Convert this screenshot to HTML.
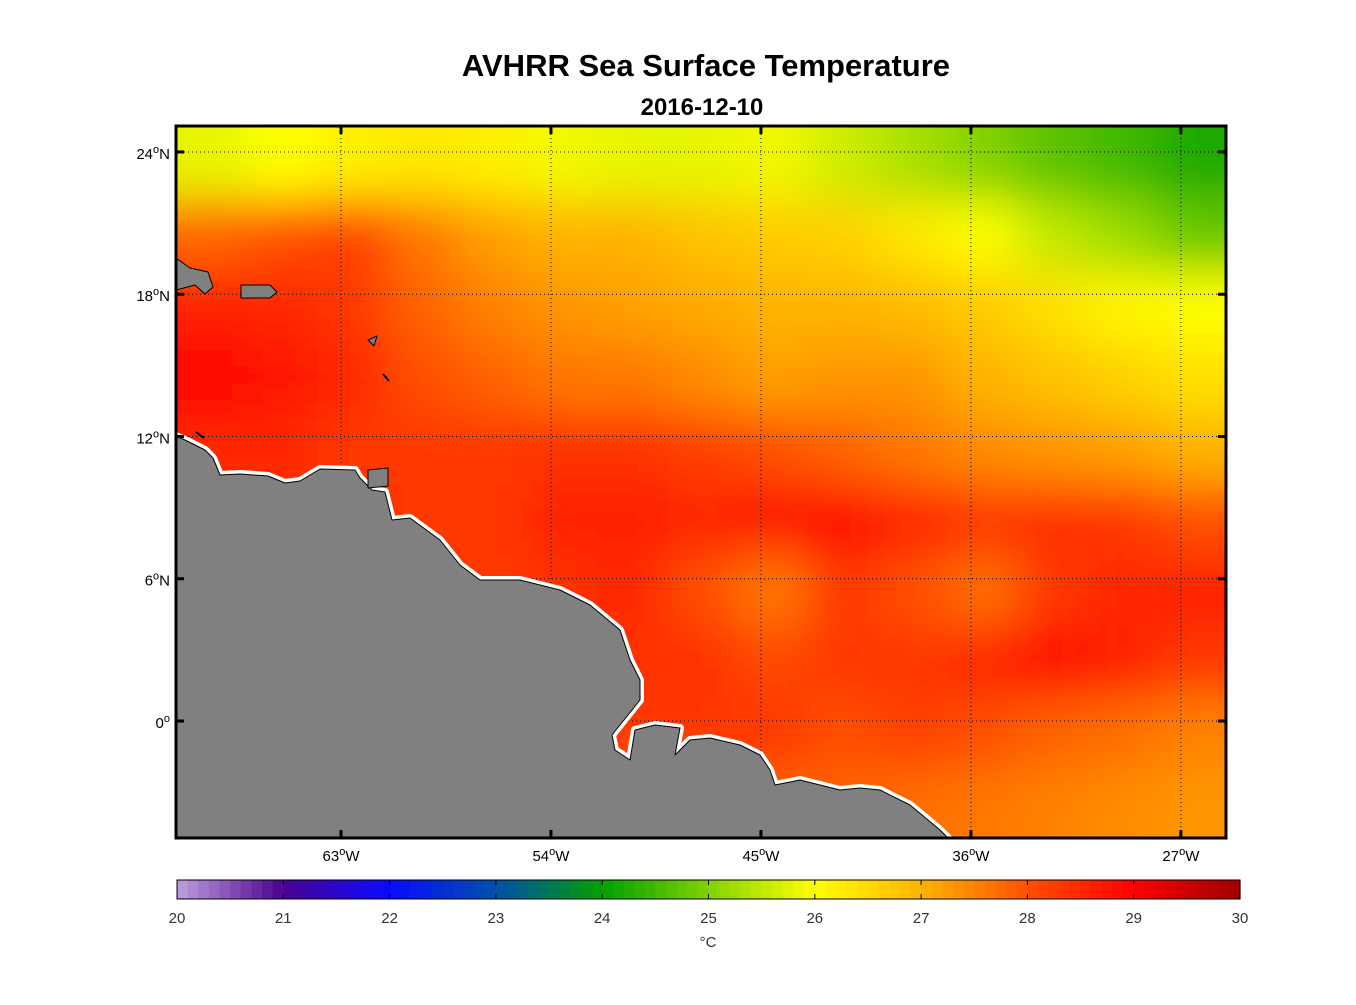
<!DOCTYPE html>
<html><head><meta charset="utf-8"><style>
body{margin:0;background:#fff;font-family:"Liberation Sans",sans-serif}
</style></head><body>
<svg id="svg" width="1356" height="1000" xmlns="http://www.w3.org/2000/svg">
<defs>
<filter id="blur" x="-10%" y="-10%" width="120%" height="120%"><feGaussianBlur stdDeviation="24" edgeMode="duplicate"/></filter>
<clipPath id="clip"><rect x="176" y="126" width="1050" height="712"/></clipPath>
</defs>
<text x="706" y="76" text-anchor="middle" font-size="31" font-weight="bold">AVHRR Sea Surface Temperature</text>
<text x="702" y="115" text-anchor="middle" font-size="24" font-weight="bold">2016-12-10</text>
<g clip-path="url(#clip)">
<g id="field" filter="url(#blur)"></g>
<g id="grid"></g>
<g stroke-linejoin="round">
<path d="M176,436 L185,440 L205,450 L213,458 L220,475 L240,474 L268,476 L285,483 L300,481 L320,469 L355,470 L360,478 L372,490 L385,492 L392,520 L410,518 L440,540 L460,565 L480,580 L520,580 L560,590 L590,605 L620,630 L630,660 L640,680 L640,700 L612,735 L615,750 L630,760 L635,730 L655,725 L680,728 L675,755 L690,740 L710,738 L740,745 L760,755 L770,770 L775,785 L800,780 L820,785 L840,790 L860,788 L880,790 L910,805 L940,830 L950,840 L170,840 Z" fill="none" stroke="#fff" stroke-width="8"/>
<path d="M176,436 L185,440 L205,450 L213,458 L220,475 L240,474 L268,476 L285,483 L300,481 L320,469 L355,470 L360,478 L372,490 L385,492 L392,520 L410,518 L440,540 L460,565 L480,580 L520,580 L560,590 L590,605 L620,630 L630,660 L640,680 L640,700 L612,735 L615,750 L630,760 L635,730 L655,725 L680,728 L675,755 L690,740 L710,738 L740,745 L760,755 L770,770 L775,785 L800,780 L820,785 L840,790 L860,788 L880,790 L910,805 L940,830 L950,840 L170,840 Z" fill="#808080" stroke="#000" stroke-width="1"/>
<path d="M368,470 L388,468 L388,486 L368,488 Z" fill="#808080" stroke="#000" stroke-width="1"/>
<path d="M176,258 L190,268 L208,272 L213,287 L205,294 L195,285 L176,290 Z" fill="#808080" stroke="#000"/>
<path d="M241,285 L270,285 L277,292 L270,298 L241,298 Z" fill="#808080" stroke="#000"/>
<path d="M368,340 L377,336 L374,346 Z" fill="#808080" stroke="#000"/>
<path d="M383,374 L389,381" stroke="#000" stroke-width="2"/>
<path d="M196,432 L204,438" stroke="#000" stroke-width="2"/>
</g>
</g>
<rect x="176" y="126" width="1050" height="712" fill="none" stroke="#000" stroke-width="3"/>
<g id="axes"></g>
<g id="cbar"></g>
<text x="708" y="947" text-anchor="middle" font-size="15" fill="#333">°C</text>
</svg>
<script>
const lonEdges=[-70,-67,-64,-61,-58,-55,-52,-49,-46,-43,-40,-37,-34,-31,-28,-25];
const latEdges=[25,22,19,16,13,10,7,4,1,-2,-5];
const sst=[
[25.8,26.0,26.2,26.3,26.2,25.9,25.8,25.8,25.9,25.6,25.3,25.0,24.7,24.5,24.2],
[27.8,28.0,28.2,27.6,27.2,27.0,27.0,26.8,26.7,26.6,26.3,26.0,25.5,25.2,24.8],
[28.6,28.5,28.3,27.8,27.5,27.3,27.2,27.1,27.0,27.0,26.9,26.7,26.4,26.1,26.0],
[29.0,28.7,28.5,28.0,27.8,27.6,27.6,27.4,27.2,27.3,27.3,27.0,26.8,26.6,26.4],
[28.5,28.5,28.3,28.3,28.3,28.4,28.4,28.2,28.0,27.8,27.6,27.4,27.3,27.2,27.0],
[28.4,28.4,28.4,28.3,28.3,28.6,28.6,28.5,28.7,28.8,28.5,28.3,28.4,28.3,28.0],
[28.3,28.3,28.3,28.3,28.3,28.4,28.5,28.0,27.6,28.3,28.0,27.7,28.3,28.5,28.6],
[28.3,28.3,28.3,28.3,28.3,28.4,28.4,28.4,28.1,28.3,28.3,28.5,28.8,28.6,28.3],
[28.2,28.2,28.2,28.2,28.2,28.3,28.3,28.3,28.3,28.0,28.2,28.0,27.8,27.7,27.5],
[27.8,27.8,27.8,27.8,27.8,27.8,27.8,27.8,27.8,27.8,27.7,27.6,27.5,27.4,27.3]];
const latTicks=[24,18,12,6,0];
const latLabels=[["24","N"],["18","N"],["12","N"],["6","N"],["0",""]];
const lonTicks=[-63,-54,-45,-36,-27];
const lonLabels=[["63","W"],["54","W"],["45","W"],["36","W"],["27","W"]];
const cbTicks=[20,21,22,23,24,25,26,27,28,29,30];
const NS='http://www.w3.org/2000/svg';
const X=lon=>341+(lon+63)*23.33;
const Y=lat=>721-lat*23.71;
const stops=[[20,[190,160,220]],[21,[75,0,145]],[22,[10,10,255]],[23,[0,80,170]],[24,[0,160,0]],[25,[130,210,0]],[26,[255,255,0]],[27,[255,180,0]],[28,[255,80,0]],[29,[255,0,0]],[30,[160,0,0]]];
function col(v){v=Math.max(20,Math.min(30,v));for(let i=0;i<stops.length-1;i++){const a=stops[i],b=stops[i+1];if(v<=b[0]){const t=(v-a[0])/(b[0]-a[0]);const c=a[1].map((q,k)=>Math.round(q+(b[1][k]-q)*t));return `rgb(${c})`;}}return 'rgb(160,0,0)';}
function mk(tag,attrs,parent){const e=document.createElementNS(NS,tag);for(const k in attrs)e.setAttribute(k,attrs[k]);parent.appendChild(e);return e;}
function label(parent,x,y,anchor,parts){const tx=mk('text',{x:x,y:y,'text-anchor':anchor,'font-size':15},parent);
 mk('tspan',{},tx).textContent=parts[0];
 const s=mk('tspan',{'font-size':11,dy:-6},tx);s.textContent='o';
 const r=mk('tspan',{dy:6},tx);r.textContent=parts[1];return tx;}
const field=document.getElementById('field');
sst.forEach((row,r)=>row.forEach((v,c)=>{
 let x0=X(lonEdges[c]),x1=X(lonEdges[c+1]),y0=Y(latEdges[r]),y1=Y(latEdges[r+1]);
 if(c===0)x0-=100;if(c===row.length-1)x1+=100;if(r===0)y0-=100;if(r===sst.length-1)y1+=100;
 const e=mk('rect',{x:x0,y:y0,width:x1-x0+1,height:y1-y0+1,fill:col(v)},field);
 
 
}));
const grid=document.getElementById('grid'),axes=document.getElementById('axes');
latTicks.forEach((t,i)=>{const y=Y(t);
 const g=mk('line',{x1:176,x2:1226,y1:y,y2:y,stroke:'#000','stroke-width':1,'stroke-dasharray':'1,3'},grid);
 
 mk('line',{x1:176,x2:184,y1:y,y2:y,stroke:'#000','stroke-width':3},axes);
 mk('line',{x1:1218,x2:1226,y1:y,y2:y,stroke:'#000','stroke-width':3},axes);
 const tx=label(axes,170,y+7,'end',latLabels[i]);
 });
lonTicks.forEach((t,i)=>{const x=X(t);
 const g=mk('line',{x1:x,x2:x,y1:126,y2:838,stroke:'#000','stroke-width':1,'stroke-dasharray':'1,3'},grid);
 
 mk('line',{x1:x,x2:x,y1:126,y2:134,stroke:'#000','stroke-width':3},axes);
 mk('line',{x1:x,x2:x,y1:830,y2:838,stroke:'#000','stroke-width':3},axes);
 const tx=label(axes,x,861,'middle',lonLabels[i]);
 });
const cb=document.getElementById('cbar');const cx0=177,cx1=1240;
for(let k=0;k<100;k++){const v=20+k*0.1+0.05;const x=cx0+(cx1-cx0)*k/100;
 const e=mk('rect',{x:x,y:880,width:(cx1-cx0)/100+0.6,height:19,fill:col(v)},cb);
 }
mk('rect',{x:cx0,y:880,width:cx1-cx0,height:19,fill:'none',stroke:'#000','stroke-width':1},cb);
cbTicks.forEach(t=>{const x=cx0+(cx1-cx0)*(t-20)/10;
 mk('line',{x1:x,x2:x,y1:880,y2:885,stroke:'#000'},cb);mk('line',{x1:x,x2:x,y1:894,y2:899,stroke:'#000'},cb);
 const tx=mk('text',{x:x,y:923,'text-anchor':'middle','font-size':15,fill:'#333'},cb);tx.textContent=t;
 });
</script>
</body></html>
